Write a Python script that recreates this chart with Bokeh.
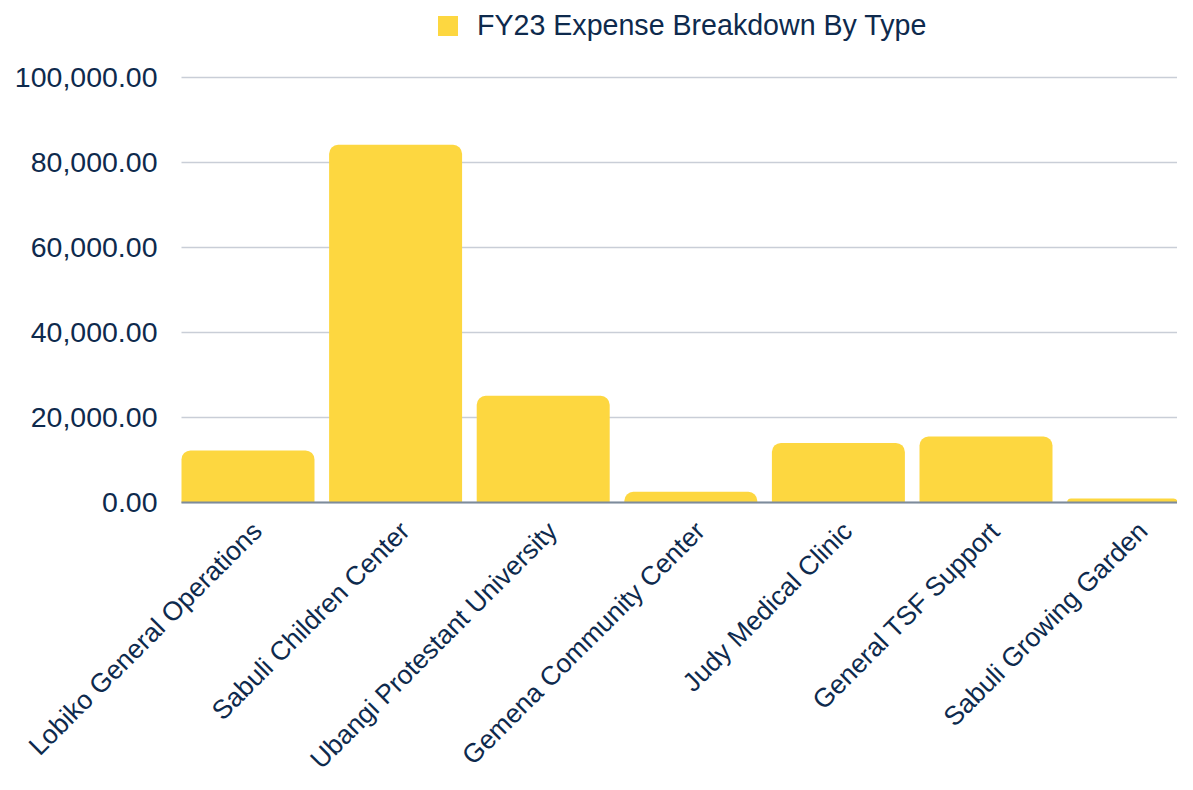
from bokeh.plotting import figure
from bokeh.models import (Range1d, FixedTicker, NumeralTickFormatter, Legend, LegendItem,
                          ColumnDataSource)
from bokeh.embed import file_html
from bokeh.resources import INLINE
import math

categories = ["Lobiko General Operations", "Sabuli Children Center", "Ubangi Protestant University",
              "Gemena Community Center", "Judy Medical Clinic", "General TSF Support",
              "Sabuli Growing Garden"]
expenses = [12250, 84100, 25100, 2500, 14000, 15500, 950]
y_ticks = [0, 20000, 40000, 60000, 80000, 100000]
series_name = "FY23 Expense Breakdown By Type"

TEXT = "#0E2A4D"
BAR = "#FDD740"
FONT = "Liberation Sans"

X_LEFT, X_RIGHT = -0.4505, 6.2974
LABEL_SHIFT = 0.0625  # small visual nudge of rotated category labels to the right

src = ColumnDataSource(dict(x=list(range(len(categories))), top=expenses))

p = figure(width=1177, height=774, output_backend="svg", toolbar_location=None,
           x_range=Range1d(-1.6768, X_RIGHT), y_range=Range1d(-63955, 118034),
           min_border_left=0, min_border_right=0, min_border_top=0, min_border_bottom=0)
p.outline_line_color = None
p.background_fill_color = "white"
p.border_fill_color = "white"

r = p.vbar(x="x", top="top", bottom=0, width=0.901, source=src, fill_color=BAR,
           line_color=None, border_radius=(9, 9, 0, 0))

p.xgrid.grid_line_color = None
p.ygrid.ticker = FixedTicker(ticks=y_ticks)
p.ygrid.grid_line_color = "#C9CED7"
p.ygrid.grid_line_width = 1.5
grid_ok = True
try:
    p.ygrid.cross_bounds = (X_LEFT, X_RIGHT)
except Exception:
    grid_ok = False
if not grid_ok:
    p.ygrid.grid_line_color = None
    p.segment(x0=X_LEFT, x1=X_RIGHT, y0=y_ticks[1:], y1=y_ticks[1:],
              line_color="#C9CED7", line_width=1.5, level="underlay")

ya = p.yaxis[0]
ya.fixed_location = X_LEFT
ya.ticker = FixedTicker(ticks=y_ticks)
ya.formatter = NumeralTickFormatter(format="0,0.00")
ya.axis_line_color = None
ya.major_tick_line_color = None
ya.minor_tick_line_color = None
ya.major_tick_out = 0
ya.major_tick_in = 0
ya.major_label_standoff = 24
ya.major_label_text_font = FONT
ya.major_label_text_font_size = "28.5px"
ya.major_label_text_color = TEXT

tick_pos = [i + LABEL_SHIFT for i in range(len(categories))]
xa = p.xaxis[0]
xa.fixed_location = 0
xa.bounds = (X_LEFT, X_RIGHT)
xa.ticker = FixedTicker(ticks=tick_pos)
xa.major_label_overrides = {t: c for t, c in zip(tick_pos, categories)}
xa.axis_line_color = "#7D8B9B"
xa.axis_line_width = 2
xa.major_tick_line_color = None
xa.minor_tick_line_color = None
xa.major_tick_out = 0
xa.major_tick_in = 0
xa.major_label_orientation = math.pi / 4
xa.major_label_standoff = 24
xa.major_label_text_font = FONT
xa.major_label_text_font_size = "26.5px"
xa.major_label_text_color = TEXT

legend = Legend(items=[LegendItem(label=series_name, renderers=[r])],
                location=(435, 732), orientation="horizontal",
                glyph_width=25, glyph_height=25, label_standoff=17, padding=0, margin=0,
                label_text_font=FONT, label_text_font_size="28.6px", label_text_color=TEXT,
                background_fill_alpha=0, border_line_color=None)
p.add_layout(legend, "center")

open("out.html", "w").write(file_html(p, INLINE))
